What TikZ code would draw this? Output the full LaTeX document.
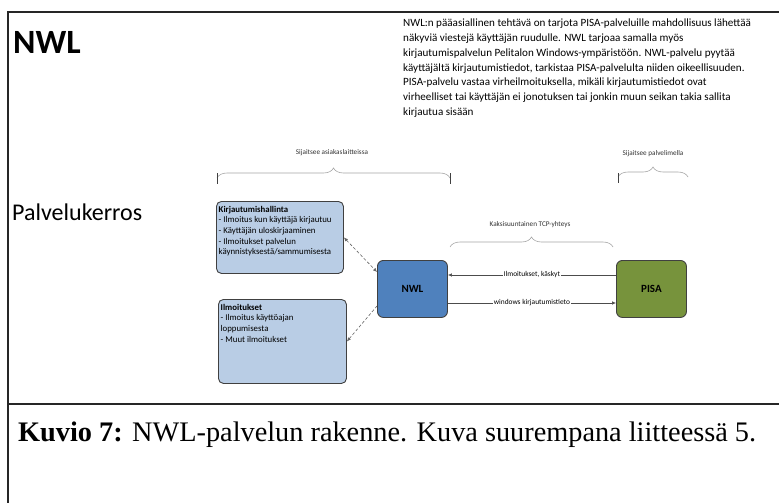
\documentclass[tikz,border=0pt]{standalone}
\usepackage{fontspec}
\setmainfont{Carlito}
\newfontfamily\capfont{Liberation Serif}
\usetikzlibrary{arrows.meta,decorations.pathreplacing}
\definecolor{lblue}{HTML}{B9CDE5}
\definecolor{nwlblue}{HTML}{4F81BD}
\definecolor{pisagreen}{HTML}{77933C}
\definecolor{edgegray}{HTML}{404040}
\begin{document}
\begin{tikzpicture}[x=1pt,y=-1pt,
 >={Latex[length=4pt,width=3.5pt]},
 infobox/.style={draw=edgegray, line width=0.9pt, fill=lblue, rounded corners=5pt, anchor=north west, inner sep=0pt},
 mainbox/.style={draw=edgegray, line width=0.9pt, rounded corners=6pt, anchor=north west, inner sep=0pt, minimum width=70pt, minimum height=57pt, font=\fontsize{11}{13}\selectfont\bfseries},
 boxtext/.style={anchor=north west, inner sep=0pt, align=left, font=\fontsize{8.8}{10.6}\selectfont},
 conn/.style={draw=black!70, line width=0.6pt, <-},
 dconn/.style={draw=black!60, line width=0.6pt, dash pattern=on 3pt off 2pt},
 lbl/.style={fill=white, inner sep=1pt, font=\fontsize{7.4}{9}\selectfont},
 bracelbl/.style={inner sep=0pt, font=\fontsize{7.2}{9}\selectfont, text=black!80},
 gbrace/.style={draw=black!35, line width=0.6pt, decorate, decoration={brace, amplitude=10pt}},
 tick/.style={draw=black!75, line width=0.9pt},
 frame/.style={draw=black!85, line width=1.3pt},
 para/.style={anchor=base west, inner sep=0pt, font=\fontsize{11.1}{13}\selectfont},
 ]
\useasboundingbox (0,0) rectangle (779,503);
\clip (0,0) rectangle (779,503);
\fill[white] (0,0) rectangle (779,503);
\draw[frame] (8,12) rectangle (800,404);
\draw[frame] (8,404) rectangle (800,520);

% title and side label
\node[anchor=base west, inner sep=0pt, font=\fontsize{34}{40}\selectfont\bfseries] (title) at (13,53.5) {NWL};
\node[anchor=base west, inner sep=0pt, font=\fontsize{24}{28}\selectfont] (layer) at (12,220) {Palvelukerros};

% paragraph
\node[para] (p1) at (403,27.0) {NWL:n pääasiallinen tehtävä on tarjota PISA-palveluille mahdollisuus lähettää};
\node[para] (p2) at (403,41.7) {näkyviä viestejä käyttäjän ruudulle. NWL tarjoaa samalla myös};
\node[para] (p3) at (403,56.4) {kirjautumispalvelun Pelitalon Windows-ympäristöön. NWL-palvelu pyytää};
\node[para] (p4) at (403,71.1) {käyttäjältä kirjautumistiedot, tarkistaa PISA-palvelulta niiden oikeellisuuden.};
\node[para] (p5) at (403,85.8) {PISA-palvelu vastaa virheilmoituksella, mikäli kirjautumistiedot ovat};
\node[para] (p6) at (403,100.5) {virheelliset tai käyttäjän ei jonotuksen tai jonkin muun seikan takia sallita};
\node[para] (p7) at (403,115.2) {kirjautua sisään};

% braces
\coordinate (b1l) at (217,178);
\coordinate (b1r) at (450,178);
\draw[gbrace] (b1l) -- (b1r);
\draw[tick] (217,173) -- (217,184);
\draw[tick] (450,173) -- (450,184);
\node[bracelbl] (b1t) at (332,153) {Sijaitsee asiakaslaitteissa};

\coordinate (b2l) at (618,177);
\coordinate (b2r) at (688,177);
\draw[gbrace] (b2l) -- (b2r);
\draw[tick] (618,173) -- (618,183);
\node[bracelbl] (b2t) at (653,154) {Sijaitsee palvelimella};

\coordinate (b3l) at (450,247);
\coordinate (b3r) at (613,247);
\draw[gbrace] (b3l) -- (b3r);
\node[bracelbl] (b3t) at (530,225) {Kaksisuuntainen TCP-yhteys};

% boxes
\node[infobox, minimum width=127pt, minimum height=72pt] (kh) at (216,201) {};
\node[boxtext] (khtext) at ([shift={(2.5,5)}]kh.north west) {\textbf{Kirjautumishallinta}\\- Ilmoitus kun käyttäjä kirjautuu\\- Käyttäjän uloskirjaaminen\\- Ilmoitukset palvelun\\käynnistyksestä/sammumisesta};

\node[infobox, minimum width=128pt, minimum height=84pt] (il) at (218,299) {};
\node[boxtext] (iltext) at ([shift={(2.5,5)}]il.north west) {\textbf{Ilmoitukset}\\- Ilmoitus käyttöajan\\loppumisesta\\- Muut ilmoitukset};

\node[mainbox, fill=nwlblue] (nwl) at (377,260) {NWL};
\node[mainbox, fill=pisagreen] (pisa) at (616,260) {PISA};

% connectors
\draw[dconn, <->] (kh.east) -- ([shift={(0,12)}]nwl.north west);
\draw[dconn, <-] (il.east) -- ([shift={(0,46)}]nwl.north west);
\draw[conn] ([shift={(0,15)}]nwl.north east) -- node[lbl] (l1) {Ilmoitukset, käskyt} ([shift={(0,15)}]pisa.north west);
\draw[conn] ([shift={(0,43)}]pisa.north west) -- node[lbl] (l2) {windows kirjautumistieto} ([shift={(0,43)}]nwl.north east);

% caption
\node[anchor=base west, inner sep=0pt, font=\capfont\fontsize{28.3}{32}\selectfont] (cap) at (18,441) {\textbf{Kuvio 7:} NWL-palvelun rakenne. Kuva suurempana liitteessä 5.};
\end{tikzpicture}
\end{document}
